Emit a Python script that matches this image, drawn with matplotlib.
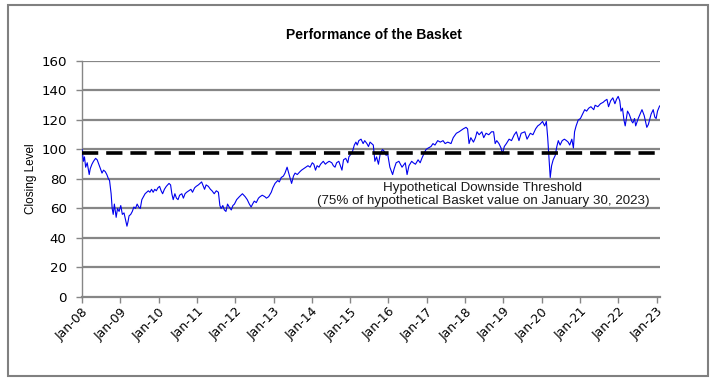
import pandas as pd
import matplotlib
matplotlib.use("Agg")
import matplotlib.pyplot as plt
import matplotlib.dates as mdates
from matplotlib.patches import Rectangle

# basket closing level
dates = [
    "2008-01-02", "2008-01-15", "2008-01-25", "2008-02-05", "2008-02-20", "2008-03-10", "2008-03-20",
    "2008-04-05", "2008-04-20", "2008-05-10", "2008-05-25", "2008-06-10", "2008-06-25", "2008-07-10",
    "2008-07-25", "2008-08-10", "2008-08-25", "2008-09-10", "2008-09-20", "2008-10-05", "2008-10-15",
    "2008-10-25", "2008-11-05", "2008-11-15", "2008-11-22", "2008-12-05", "2008-12-20",
    "2009-01-05", "2009-01-20", "2009-02-05", "2009-02-20", "2009-03-05", "2009-03-15", "2009-03-25",
    "2009-04-10", "2009-04-25", "2009-05-10", "2009-05-25", "2009-06-10", "2009-06-25", "2009-07-10",
    "2009-07-25", "2009-08-10", "2009-08-25", "2009-09-10", "2009-09-25", "2009-10-10", "2009-10-25",
    "2009-11-10", "2009-11-25", "2009-12-10", "2009-12-25",
    "2010-01-10", "2010-01-25", "2010-02-08", "2010-02-25", "2010-03-15", "2010-04-10", "2010-04-25",
    "2010-05-07", "2010-05-20", "2010-06-05", "2010-06-20", "2010-07-05", "2010-07-20", "2010-08-10",
    "2010-08-25", "2010-09-10", "2010-09-25", "2010-10-15", "2010-11-05", "2010-11-20", "2010-12-10",
    "2010-12-25",
    "2011-01-15", "2011-02-15", "2011-03-15", "2011-03-30", "2011-04-20", "2011-05-10", "2011-05-25",
    "2011-06-15", "2011-07-05", "2011-07-25", "2011-08-08", "2011-08-20", "2011-09-05", "2011-09-20",
    "2011-10-05", "2011-10-20", "2011-11-05", "2011-11-25", "2011-12-10", "2011-12-25",
    "2012-01-15", "2012-02-10", "2012-03-10", "2012-04-05", "2012-04-25", "2012-05-15", "2012-06-01",
    "2012-06-15", "2012-07-01", "2012-07-20", "2012-08-10", "2012-08-25", "2012-09-15", "2012-10-10",
    "2012-10-25", "2012-11-15", "2012-12-10", "2012-12-25",
    "2013-01-15", "2013-02-10", "2013-02-25", "2013-03-15", "2013-04-05", "2013-04-20", "2013-05-10",
    "2013-05-25", "2013-06-10", "2013-06-22", "2013-07-10", "2013-07-25", "2013-08-15", "2013-09-10",
    "2013-09-25", "2013-10-15", "2013-11-05", "2013-11-25", "2013-12-15",
    "2014-01-05", "2014-01-20", "2014-02-05", "2014-02-20", "2014-03-10", "2014-03-25", "2014-04-20",
    "2014-05-10", "2014-05-25", "2014-06-15", "2014-07-10", "2014-07-25", "2014-08-10", "2014-08-25",
    "2014-09-15", "2014-10-05", "2014-10-15", "2014-10-30", "2014-11-20", "2014-12-10", "2014-12-20",
    "2015-01-10", "2015-01-25", "2015-02-10", "2015-02-25", "2015-03-10", "2015-03-25", "2015-04-15",
    "2015-05-05", "2015-05-20", "2015-06-10", "2015-06-25", "2015-07-10", "2015-07-25", "2015-08-10",
    "2015-08-25", "2015-09-10", "2015-09-28", "2015-10-15", "2015-11-05", "2015-11-20", "2015-12-10",
    "2015-12-25",
    "2016-01-15", "2016-02-10", "2016-02-25", "2016-03-15", "2016-04-10", "2016-04-25", "2016-05-10",
    "2016-06-10", "2016-06-27", "2016-07-15", "2016-08-10", "2016-08-25", "2016-09-15", "2016-10-10",
    "2016-10-30", "2016-11-15", "2016-12-10", "2016-12-25",
    "2017-01-15", "2017-02-10", "2017-03-01", "2017-03-20", "2017-04-15", "2017-05-10", "2017-06-05",
    "2017-06-25", "2017-07-20", "2017-08-20", "2017-09-10", "2017-10-10", "2017-11-05", "2017-11-25",
    "2017-12-15",
    "2018-01-10", "2018-01-25", "2018-02-08", "2018-02-25", "2018-03-22", "2018-04-10", "2018-04-25",
    "2018-05-15", "2018-06-10", "2018-06-28", "2018-07-20", "2018-08-15", "2018-09-10", "2018-09-30",
    "2018-10-15", "2018-10-30", "2018-11-20", "2018-12-10", "2018-12-24",
    "2019-01-10", "2019-01-30", "2019-02-25", "2019-03-20", "2019-04-15", "2019-05-05", "2019-05-30",
    "2019-06-20", "2019-07-25", "2019-08-15", "2019-09-15", "2019-10-10", "2019-11-05", "2019-11-25",
    "2019-12-15",
    "2020-01-10", "2020-01-30", "2020-02-15", "2020-02-28", "2020-03-10", "2020-03-23", "2020-04-05",
    "2020-04-20", "2020-05-10", "2020-05-25", "2020-06-08", "2020-06-25", "2020-07-15", "2020-08-05",
    "2020-08-25", "2020-09-10", "2020-09-25", "2020-10-15", "2020-10-30", "2020-11-10", "2020-11-25",
    "2020-12-15",
    "2021-01-05", "2021-01-25", "2021-02-15", "2021-03-05", "2021-03-25", "2021-04-15", "2021-05-12",
    "2021-05-25", "2021-06-20", "2021-07-15", "2021-08-10", "2021-08-25", "2021-09-15", "2021-09-30",
    "2021-10-20", "2021-11-10", "2021-11-30", "2021-12-15", "2021-12-31",
    "2022-01-15", "2022-01-27", "2022-02-10", "2022-02-24", "2022-03-08", "2022-03-30", "2022-04-15",
    "2022-05-10", "2022-05-20", "2022-06-05", "2022-06-16", "2022-07-10", "2022-08-15", "2022-09-05",
    "2022-09-30", "2022-10-15", "2022-11-10", "2022-11-30", "2022-12-15", "2022-12-28",
    "2023-01-10", "2023-01-30",
]
levels = [
    100, 92, 95, 88, 91, 83, 87, 90, 92, 94, 93, 90, 87, 84, 86, 85, 83, 80, 79, 70, 60, 56, 63, 58, 54, 60, 58,
    62, 56, 57, 52, 48, 51, 55, 56, 58, 61, 60, 63, 61, 60, 66, 68, 70, 71, 72, 71, 73, 71, 73, 72, 74,
    75, 72, 70, 73, 75, 77, 76, 70, 66, 70, 67, 66, 69, 70, 67, 70, 71, 72, 73, 71, 74, 75,
    76, 78, 73, 76, 75, 73, 72, 70, 72, 71, 62, 60, 62, 59, 58, 63, 61, 59, 62, 63,
    66, 68, 70, 68, 66, 63, 61, 63, 65, 64, 67, 68, 69, 68, 67, 68, 71, 74,
    77, 79, 78, 81, 82, 84, 88, 84, 80, 77, 82, 84, 83, 85, 86, 87, 88, 89, 88,
    91, 90, 86, 89, 88, 90, 92, 90, 91, 92, 91, 89, 88, 91, 92, 88, 86, 93, 94, 91, 95,
    97, 99, 103, 105, 103, 106, 107, 104, 106, 104, 102, 105, 104, 103, 92, 95, 90, 97, 100, 99, 96, 97,
    88, 83, 87, 91, 92, 90, 88, 91, 83, 89, 92, 91, 90, 93, 91, 94, 98, 100,
    101, 102, 104, 103, 106, 105, 106, 104, 105, 104, 108, 111, 112, 113, 114,
    115, 114, 104, 108, 105, 108, 112, 110, 112, 108, 111, 110, 112, 112, 104, 106, 104, 101, 97,
    102, 104, 107, 106, 110, 112, 106, 111, 112, 107, 111, 110, 114, 116, 117,
    119, 116, 119, 108, 96, 81, 89, 93, 96, 102, 106, 103, 106, 107, 106, 105, 103, 107, 101, 112, 116, 120,
    121, 124, 127, 126, 128, 129, 127, 130, 129, 131, 132, 133, 134, 129, 133, 135, 131, 134, 136,
    133, 126, 128, 120, 116, 126, 124, 119, 118, 121, 116, 121, 127, 123, 115, 117, 124, 127, 122, 121,
    126, 129.5,
]
threshold = 97.5
threshold_text = "Hypothetical Downside Threshold\n(75% of hypothetical Basket value on January 30, 2023)"

df = pd.DataFrame({"date": pd.to_datetime(dates), "level": levels})

fig = plt.figure(figsize=(7.14, 3.85), dpi=100)
ax = fig.add_axes([0.1148, 0.2286, 0.8096, 0.613])

grid_col = "#868686"
for v in range(20, 161, 20):
    ax.axhline(v, color=grid_col, lw=1.6, zorder=1)

ax.plot(df["date"], df["level"], color="#0000ee", lw=0.8, zorder=3)
ax.axhline(threshold, color="black", lw=2.6, dashes=(4.5, 2.2), zorder=4)

ax.text(pd.Timestamp("2018-06-20"), 69.5, threshold_text, ha="center", va="center",
        fontsize=9.6, family="Liberation Sans", color="#1a1a1a", linespacing=1.1, zorder=5)

ax.set_ylim(0, 160)
ax.set_yticks(range(0, 161, 20))
ax.set_xlim(pd.Timestamp("2008-01-01"), pd.Timestamp("2023-02-03"))
ax.xaxis.set_major_locator(mdates.YearLocator())
ax.xaxis.set_major_formatter(mdates.DateFormatter("%b-%y"))

for s in ["top", "right"]:
    ax.spines[s].set_visible(False)
ax.spines["left"].set_color(grid_col)
ax.spines["left"].set_linewidth(1.0)
ax.spines["bottom"].set_color(grid_col)
ax.spines["bottom"].set_linewidth(1.6)

ax.tick_params(axis="y", colors=grid_col, labelcolor="black", length=4, width=1, pad=7, labelsize=9.6)
ax.tick_params(axis="x", colors=grid_col, labelcolor="black", length=4, width=1, pad=2, labelsize=9)
for lbl in ax.get_xticklabels():
    lbl.set_rotation(45)
    lbl.set_ha("right")
    lbl.set_rotation_mode("anchor")
    lbl.set_family("DejaVu Sans")
for lbl in ax.get_yticklabels():
    lbl.set_family("DejaVu Sans")

ax.set_ylabel("Closing Level", fontsize=8.5, family="Liberation Sans")
ax.yaxis.set_label_coords(-0.077, 0.5)
fig.text(0.524, 0.909, "Performance of the Basket", ha="center", va="center",
         fontsize=10, fontweight="bold", family="Liberation Sans")

fig.add_artist(Rectangle((0.0112, 0.0234), 0.980, 0.9636, transform=fig.transFigure,
                         fill=False, edgecolor="#808080", lw=1.5))

fig.savefig("out.png", dpi=100)
